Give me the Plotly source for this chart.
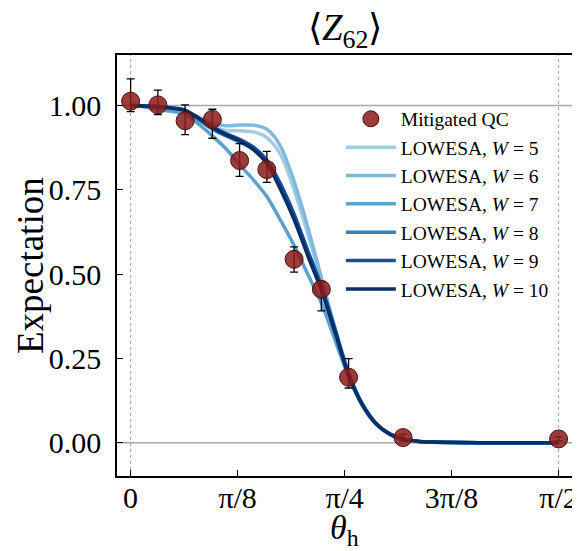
import plotly.graph_objects as go
import math

# ---------------- data ----------------
qc_theta = [0.0, 0.1, 0.2, 0.3, 0.4, 0.5, 0.6, 0.7, 0.8, 1.0, math.pi / 2]
qc_value = [1.013, 1.002, 0.955, 0.959, 0.837, 0.810, 0.544, 0.455, 0.194, 0.015, 0.011]
qc_err_plus = [0.066, 0.044, 0.047, 0.030, 0.050, 0.054, 0.037, 0.022, 0.055, 0.010, 0.006]
qc_err_minus = [0.031, 0.029, 0.041, 0.056, 0.047, 0.038, 0.038, 0.064, 0.032, 0.010, 0.006]

theta_grid = [0, 0.05, 0.1, 0.15, 0.2, 0.25, 0.3, 0.35, 0.4, 0.45, 0.5, 0.55, 0.6,
              0.65, 0.7, 0.75, 0.8, 0.85, 0.9, 0.95, 1.0, 1.05, 1.1, 1.2, 1.35, math.pi / 2]

lowesa_w5 = [1.0, 0.998, 0.993, 0.988, 0.98, 0.96, 0.938, 0.926, 0.925, 0.922, 0.905, 0.855, 0.75,
             0.62, 0.48, 0.335, 0.205, 0.115, 0.058, 0.026, 0.011, 0.004, 0.0015, 0.0002, 0.0, 0.0]
lowesa_w6 = [1.0, 0.999, 0.995, 0.99, 0.983, 0.965, 0.948, 0.94, 0.942, 0.942, 0.93, 0.88, 0.775,
             0.64, 0.49, 0.34, 0.208, 0.116, 0.058, 0.026, 0.011, 0.004, 0.0015, 0.0002, 0.0, 0.0]
lowesa_w7 = [1.0, 0.996, 0.988, 0.983, 0.975, 0.945, 0.91, 0.872, 0.825, 0.78, 0.73, 0.66, 0.585,
             0.50, 0.415, 0.305, 0.195, 0.11, 0.055, 0.025, 0.01, 0.004, 0.0015, 0.0002, 0.0, 0.0]
lowesa_w8 = [1.0, 0.999, 0.996, 0.992, 0.984, 0.958, 0.93, 0.91, 0.892, 0.87, 0.832, 0.762, 0.672,
             0.565, 0.46, 0.333, 0.203, 0.114, 0.057, 0.026, 0.011, 0.004, 0.0015, 0.0002, 0.0, 0.0]
lowesa_w9 = [1.0, 0.999, 0.997, 0.993, 0.986, 0.963, 0.937, 0.917, 0.9, 0.877, 0.838, 0.768, 0.678,
             0.57, 0.465, 0.337, 0.205, 0.115, 0.058, 0.026, 0.011, 0.004, 0.0015, 0.0002, 0.0, 0.0]
lowesa_w10 = [1.0, 0.999, 0.997, 0.993, 0.986, 0.962, 0.935, 0.913, 0.895, 0.87, 0.828, 0.752, 0.662,
              0.555, 0.452, 0.328, 0.2, 0.113, 0.057, 0.026, 0.011, 0.004, 0.0015, 0.0002, 0.0, 0.0]

lowesa_widths = [5, 6, 7, 8, 9, 10]
lowesa_series = [lowesa_w5, lowesa_w6, lowesa_w7, lowesa_w8, lowesa_w9, lowesa_w10]
lowesa_colors = ['#a3cce3', '#7fb9dc', '#5aa1d0', '#3282bf', '#11539b', '#0b2e68']

tick_vals = [0, math.pi / 8, math.pi / 4, 3 * math.pi / 8, math.pi / 2]
tick_text = ['0', 'π/8', 'π/4', '3π/8', 'π/2']
y_ticks = [0.0, 0.25, 0.5, 0.75, 1.0]
y_tick_text = ['0.00', '0.25', '0.50', '0.75', '1.00']

FONT = 'Liberation Serif'

fig = go.Figure()

for w, ys, col in zip(lowesa_widths, lowesa_series, lowesa_colors):
    fig.add_trace(go.Scatter(
        x=theta_grid, y=ys, mode='lines',
        line=dict(color=col, width=3.5, shape='spline', smoothing=0.8),
        name=f'LOWESA, <i>W</i> = {w}',
    ))

fig.add_trace(go.Scatter(
    x=qc_theta, y=qc_value, mode='markers', name='Mitigated QC',
    marker=dict(size=18, color='rgba(139,26,26,0.85)', line=dict(color='#4a1010', width=1)),
    error_y=dict(type='data', symmetric=False, array=qc_err_plus, arrayminus=qc_err_minus,
                 color='black', thickness=1.3, width=4),
    legendrank=1,
))

# reference lines
fig.add_shape(type='line', xref='paper', x0=0, x1=1, yref='y', y0=0, y1=0,
              line=dict(color='#a8a8a8', width=1.5), layer='below')
fig.add_shape(type='line', xref='paper', x0=0, x1=1, yref='y', y0=1, y1=1,
              line=dict(color='#a8a8a8', width=1.5), layer='below')
for xv in [0, math.pi / 2]:
    fig.add_shape(type='line', xref='x', x0=xv, x1=xv, yref='paper', y0=0, y1=1,
                  line=dict(color='#888888', width=0.8, dash='dot'), layer='below')

# title and axis titles as annotations
fig.add_annotation(text='⟨<i>Z</i><sub>62</sub>⟩', xref='paper', yref='paper',
                   x=0.5, y=1.0, yanchor='bottom', showarrow=False, yshift=-1,
                   font=dict(family=FONT, size=37, color='black'))
fig.add_annotation(text='<i>θ</i><sub>h</sub>', xref='paper', yref='paper',
                   x=0.5, y=0.0, yanchor='top', showarrow=False, yshift=-32, borderpad=0,
                   font=dict(family=FONT, size=34, color='black'))
fig.add_annotation(text='Expectation', xref='paper', yref='paper',
                   x=-0.19, y=0.5, xanchor='center', yanchor='middle', textangle=-90,
                   showarrow=False, font=dict(family=FONT, size=37, color='black'))

# the page body has an 8px margin, so the figure is 8px smaller than the window
fig.update_layout(
    width=572, height=543,
    margin=dict(l=109, r=8, t=47, b=75, autoexpand=False),
    paper_bgcolor='white', plot_bgcolor='white',
    font=dict(family=FONT, color='black'),
    showlegend=True,
    legend=dict(x=0.492, y=0.894, xanchor='left', yanchor='top', itemwidth=50,
                bgcolor='rgba(255,255,255,0)', font=dict(family=FONT, size=19.5),
                tracegroupgap=0),
    xaxis=dict(range=[-0.050, 1.620], tickvals=tick_vals, ticktext=tick_text,
               showgrid=False, zeroline=False, showline=True, linecolor='black', linewidth=1.5,
               mirror=True, ticks='inside', ticklen=6, tickcolor='black', automargin=False,
               tickfont=dict(family=FONT, size=30), ticklabelstandoff=-6),
    yaxis=dict(range=[-0.099, 1.150], tickvals=y_ticks, ticktext=y_tick_text,
               showgrid=False, zeroline=False, showline=True, linecolor='black', linewidth=1.5,
               mirror=True, ticks='inside', ticklen=6, tickcolor='black', automargin=False,
               tickfont=dict(family=FONT, size=30), ticklabelstandoff=8),
)

fig.write_html('out.html')
